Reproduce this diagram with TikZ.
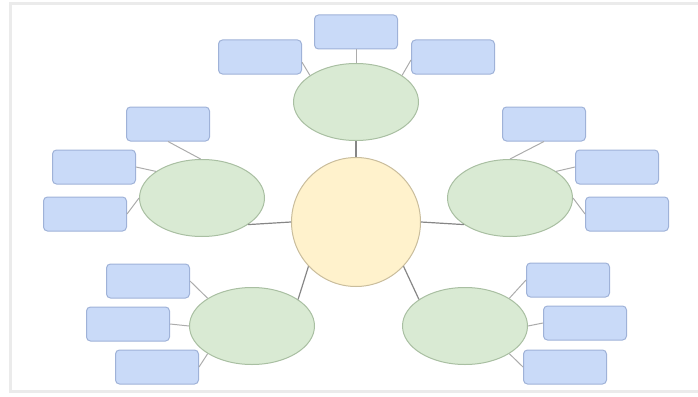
\documentclass[tikz,border=0pt]{standalone}
\usetikzlibrary{shapes.geometric}
\definecolor{ideafill}{HTML}{FFF2CC}
\definecolor{ideadraw}{HTML}{C9BD9C}
\definecolor{topicfill}{HTML}{D9EAD3}
\definecolor{topicdraw}{HTML}{A9BFA2}
\definecolor{detailfill}{HTML}{C9DAF8}
\definecolor{detaildraw}{HTML}{9FB2D8}
\definecolor{framegray}{HTML}{EBEBEB}
\tikzset{
	idea/.style={circle, draw=ideadraw, fill=ideafill, line width=1pt, minimum size=129pt, inner sep=0pt}, % the centre circle
	topic/.style={ellipse, draw=topicdraw, fill=topicfill, line width=1pt, minimum width=125pt, minimum height=77pt, inner sep=0pt}, % the five ellipses
	detail/.style={rectangle, rounded corners=4pt, draw=detaildraw, fill=detailfill, line width=1pt, minimum width=83pt, minimum height=34pt, inner sep=0pt}, % the small boxes
	mainlink/.style={draw=gray!95, line width=1.2pt}, % centre to ellipse
	sublink/.style={draw=gray!65, line width=1pt}, % ellipse to box
}
\begin{document}
\begin{tikzpicture}[x=1pt, y=-1pt]
		\useasboundingbox (0,0) rectangle (698,396);
		\draw[framegray, line width=3pt] (698,4) -- (10,4) -- (10,391) -- (698,391);
		
		\node[idea] (centre) at (356,222) {};
		
		\node[topic] (top) at (356,102) {};
		\node[topic] (left) at (202,198) {};
		\node[topic] (right) at (510,198) {};
		\node[topic] (lowleft) at (252,326) {};
		\node[topic] (lowright) at (465,326) {};
		
		\node[detail] (topmid) at (356,32) {};
		\node[detail] (topleft) at (260,57) {};
		\node[detail] (topright) at (453,57) {};
		
		\node[detail] (leftup) at (168,124) {};
		\node[detail] (leftmid) at (94,167) {};
		\node[detail] (leftdown) at (85,214) {};
		
		\node[detail] (rightup) at (544,124) {};
		\node[detail] (rightmid) at (617,167) {};
		\node[detail] (rightdown) at (627,214) {};
		
		\node[detail] (lowleftup) at (148,281) {};
		\node[detail] (lowleftmid) at (128,324) {};
		\node[detail] (lowleftdown) at (157,367) {};
		
		\node[detail] (lowrightup) at (568,280) {};
		\node[detail] (lowrightmid) at (585,323) {};
		\node[detail] (lowrightdown) at (565,367) {};
		
		% centre to the ellipses
		\draw[mainlink] (centre.north) -- (top.south);
		\draw[mainlink] (centre.west) -- (left.-30);
		\draw[mainlink] (centre.east) -- (right.210);
		\draw[mainlink] (centre.-137) -- (lowleft.30);
		\draw[mainlink] (centre.-43) -- (lowright.150);
		
		% ellipses to the boxes
		\draw[sublink] (topmid.south) -- (top.north);
		\draw[sublink] (topleft.-7) -- (top.150);
		\draw[sublink] (topright.184) -- (top.30);
		
		\draw[sublink] (leftup.south) -- (left.92);
		\draw[sublink] (leftmid.east) -- (left.150);
		\draw[sublink] (leftdown.east) -- (left.west);
		
		\draw[sublink] (rightup.south) -- (right.north);
		\draw[sublink] (rightmid.west) -- (right.30);
		\draw[sublink] (rightdown.west) -- (right.east);
		
		\draw[sublink] (lowleftup.east) -- (lowleft.148);
		\draw[sublink] (lowleftmid.east) -- (lowleft.west);
		\draw[sublink] (lowleftdown.east) -- (lowleft.212);
		
		\draw[sublink] (lowrightup.west) -- (lowright.32);
		\draw[sublink] (lowrightmid.west) -- (lowright.east);
		\draw[sublink] (lowrightdown.west) -- (lowright.-32);
\end{tikzpicture}
\end{document}
